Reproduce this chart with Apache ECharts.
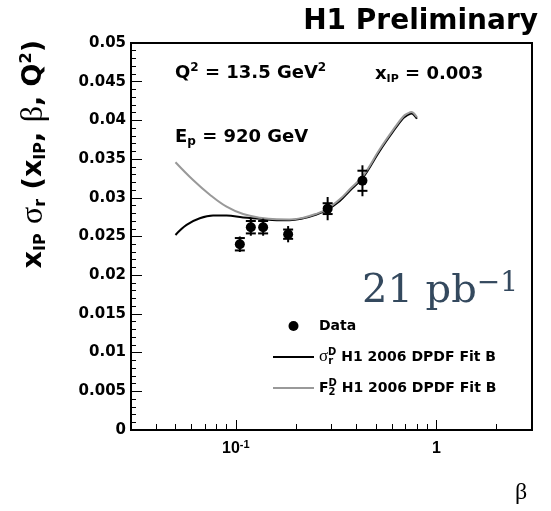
<!DOCTYPE html>
<html>
<head>
<meta charset="utf-8">
<script src="https://cdn.jsdelivr.net/npm/echarts@6/dist/echarts.min.js"></script>
<style>
html, body { margin: 0; padding: 0; background: #fff; }
#chart { width: 551px; height: 511px; }
</style>
</head>
<body>
<div id="chart"></div>
<script>
// measured points (beta, x_IP * sigma_r) with stat / total errors
var betaPts = [0.1047, 0.1188, 0.1368, 0.1823, 0.287, 0.428];
var sigmaPts = [0.0240, 0.0262, 0.0262, 0.0253, 0.0286, 0.0322];
var statErr = [0.0008, 0.0008, 0.0008, 0.0006, 0.0007, 0.0013];
var totErr = [0.0010, 0.0011, 0.0011, 0.00105, 0.0015, 0.0020];

// H1 2006 DPDF Fit B, sigma_r^D
var betaSig = [0.05, 0.0568, 0.0661, 0.077, 0.0899, 0.1087, 0.1317, 0.16, 0.185, 0.217, 0.25, 0.283, 0.33, 0.37, 0.43, 0.52, 0.61, 0.684, 0.72, 0.752, 0.78, 0.8];
var valSig = [0.0252, 0.0265, 0.02735, 0.0277, 0.0277, 0.02745, 0.0273, 0.0271, 0.0271, 0.02735, 0.0278, 0.0284, 0.0296, 0.0309, 0.0326, 0.0360, 0.0386, 0.0403, 0.0407, 0.0409, 0.0406, 0.0402];

// H1 2006 DPDF Fit B, F2^D
var betaF2 = [0.05, 0.0612, 0.0742, 0.0899, 0.1087, 0.1317, 0.16, 0.185, 0.217, 0.25, 0.283, 0.33, 0.37, 0.43, 0.52, 0.61, 0.684, 0.72, 0.752, 0.78, 0.8];
var valF2 = [0.0346, 0.0323, 0.0304, 0.02885, 0.0279, 0.02743, 0.02722, 0.0272, 0.02743, 0.0279, 0.0285, 0.0298, 0.0311, 0.0328, 0.0362, 0.0388, 0.0405, 0.0409, 0.0411, 0.0408, 0.0404];

var xMajor = [0.1, 1];
var xMinor = [0.04, 0.05, 0.06, 0.07, 0.08, 0.09, 0.2, 0.3, 0.4, 0.5, 0.6, 0.7, 0.8, 0.9, 2, 3];

var SANS = '"DejaVu Sans"';
var SERIF = '"Liberation Serif"';

function zip(a, b) {
  return a.map(function (v, i) { return [v, b[i]]; });
}

var chart = echarts.init(document.getElementById('chart'));

var option = {
  animation: false,
  backgroundColor: '#fff',
  grid: {
    left: 131, right: 19, top: 43, bottom: 81,
    show: true, borderColor: '#000', borderWidth: 2, backgroundColor: 'transparent'
  },
  xAxis: [{
    type: 'log', logBase: 10, min: 0.03, max: 3,
    position: 'bottom',
    axisLine: { show: true, lineStyle: { color: '#000', width: 2 } },
    axisTick: { show: true, inside: true, length: 10, customValues: xMajor, lineStyle: { color: '#000', width: 1 } },
    axisLabel: {
      customValues: xMajor, margin: 10, color: '#000',
      formatter: function (v) { return v < 0.5 ? '{b|10}{e|-1}' : '{b|1}'; },
      rich: {
        b: { fontFamily: '"Liberation Sans"', fontWeight: 'bold', fontSize: 16, lineHeight: 18, color: '#000' },
        e: { fontFamily: '"Liberation Sans"', fontWeight: 'bold', fontSize: 11, lineHeight: 11, padding: [0, 0, 9, 0], color: '#000' }
      }
    },
    splitLine: { show: false }
  }, {
    type: 'log', logBase: 10, min: 0.03, max: 3,
    position: 'bottom',
    axisLine: { show: false },
    axisTick: { show: true, inside: true, length: 6, customValues: xMinor, lineStyle: { color: '#000', width: 1 } },
    axisLabel: { show: false },
    splitLine: { show: false }
  }],
  yAxis: {
    type: 'value', min: 0, max: 0.05, interval: 0.005,
    axisLine: { show: true, lineStyle: { color: '#000', width: 2 } },
    axisTick: { show: true, inside: true, length: 11, lineStyle: { color: '#000', width: 1 } },
    minorTick: { show: true, splitNumber: 5, length: 5, lineStyle: { color: '#000', width: 1 } },
    axisLabel: { fontFamily: SANS, fontWeight: 'bold', fontSize: 15, color: '#000', margin: 5 },
    splitLine: { show: false }
  },
  legend: {
    orient: 'vertical', left: 267, top: 311,
    itemWidth: 41, itemHeight: 10, itemGap: 11,
    selectedMode: false,
    data: [
      { name: 'Data', icon: 'circle', itemStyle: { color: '#000', opacity: 1 } },
      { name: 'sigma', itemStyle: { opacity: 0 } },
      { name: 'F2', itemStyle: { opacity: 0 } }
    ],
    formatter: function (name) {
      if (name === 'Data') return '{t|Data}';
      if (name === 'sigma') return '{g|σ}{sub|r}{supb|D}{t| H1 2006 DPDF Fit B}';
      return '{t|F}{sub|2}{supc|D}{t| H1 2006 DPDF Fit B}';
    },
    textStyle: {
      color: '#000', lineHeight: 20,
      rich: {
        t: { fontFamily: SANS, fontWeight: 'bold', fontSize: 14, lineHeight: 20, color: '#000' },
        g: { fontFamily: SERIF, fontSize: 17, lineHeight: 20, color: '#000' },
        sub: { fontFamily: SANS, fontWeight: 'bold', fontSize: 10, lineHeight: 10, padding: [9, 0, 0, 0], color: '#000' },
        supb: { fontFamily: SANS, fontWeight: 'bold', fontSize: 10, lineHeight: 10, padding: [0, 0, 9, -5], color: '#000' },
        supc: { fontFamily: SANS, fontWeight: 'bold', fontSize: 10, lineHeight: 10, padding: [0, 0, 9, -7], color: '#000' }
      }
    }
  },
  graphic: [
    {
      type: 'text', x: 538, y: 22,
      style: { text: 'H1 Preliminary', font: 'bold 28px ' + SANS, fill: '#000', textAlign: 'right', textVerticalAlign: 'middle' }
    },
    {
      type: 'text', x: 175, y: 73,
      style: {
        text: '{t|Q}{sup|2}{t| = 13.5 GeV}{sup|2}', textAlign: 'left', textVerticalAlign: 'middle',
        rich: {
          t: { fontFamily: SANS, fontWeight: 'bold', fontSize: 18, lineHeight: 22, fill: '#000' },
          sup: { fontFamily: SANS, fontWeight: 'bold', fontSize: 12, lineHeight: 12, padding: [0, 0, 10, 0], fill: '#000' }
        }
      }
    },
    {
      type: 'text', x: 375, y: 74,
      style: {
        text: '{t|x}{sub|IP}{t| = 0.003}', textAlign: 'left', textVerticalAlign: 'middle',
        rich: {
          t: { fontFamily: SANS, fontWeight: 'bold', fontSize: 18, lineHeight: 22, fill: '#000' },
          sub: { fontFamily: SANS, fontWeight: 'bold', fontSize: 11, lineHeight: 11, padding: [10, 0, 0, 0], fill: '#000' }
        }
      }
    },
    {
      type: 'text', x: 175, y: 137,
      style: {
        text: '{t|E}{sub|p}{t| = 920 GeV}', textAlign: 'left', textVerticalAlign: 'middle',
        rich: {
          t: { fontFamily: SANS, fontWeight: 'bold', fontSize: 18, lineHeight: 22, fill: '#000' },
          sub: { fontFamily: SANS, fontWeight: 'bold', fontSize: 12, lineHeight: 12, padding: [10, 0, 0, 0], fill: '#000' }
        }
      }
    },
    {
      // y axis title, rotated, end aligned to the top of the frame
      type: 'text', x: 34, y: 40, rotation: Math.PI / 2,
      style: {
        text: '{t|x}{sub|IP}{t| }{g|σ}{sub|r}{t| (x}{sub|IP}{t|, }{g|β}{t|, Q}{sup|2}{t|)}',
        textAlign: 'right', textVerticalAlign: 'middle',
        rich: {
          t: { fontFamily: SANS, fontWeight: 'bold', fontSize: 27, lineHeight: 32, fill: '#000' },
          g: { fontFamily: SERIF, fontSize: 32, lineHeight: 32, fill: '#000' },
          sub: { fontFamily: SANS, fontWeight: 'bold', fontSize: 16, lineHeight: 16, padding: [14, 0, 0, 0], fill: '#000' },
          sup: { fontFamily: SANS, fontWeight: 'bold', fontSize: 16, lineHeight: 16, padding: [0, 0, 14, 0], fill: '#000' }
        }
      }
    },
    {
      type: 'text', x: 521, y: 493,
      style: { text: 'β', font: '24px ' + SERIF, fill: '#000', textAlign: 'center', textVerticalAlign: 'middle' }
    },
    {
      type: 'text', x: 362, y: 292,
      style: {
        text: '{n|21 pb}{s|−1}', textAlign: 'left', textVerticalAlign: 'middle',
        rich: {
          n: { fontFamily: '"DejaVu Serif"', fontSize: 40, lineHeight: 44, fill: '#34495e' },
          s: { fontFamily: '"DejaVu Serif"', fontSize: 28, lineHeight: 28, padding: [0, 0, 16, 0], fill: '#34495e' }
        }
      }
    }
  ],
  series: [
    {
      name: 'sigma', type: 'line', xAxisIndex: 0,
      data: zip(betaSig, valSig),
      smooth: 0.4, symbol: 'none', z: 2,
      itemStyle: { color: '#000' },
      lineStyle: { color: '#000', width: 2 }
    },
    {
      name: 'F2', type: 'line', xAxisIndex: 0,
      data: zip(betaF2, valF2),
      smooth: 0.4, symbol: 'none', z: 3,
      itemStyle: { color: '#999' },
      lineStyle: { color: '#999', width: 2 }
    },
    {
      name: 'errors', type: 'custom', xAxisIndex: 0, z: 4,
      encode: { x: 0, y: 1 },
      data: betaPts.map(function (b, i) { return [b, sigmaPts[i], statErr[i], totErr[i]]; }),
      renderItem: function (params, api) {
        var b = api.value(0), v = api.value(1), s = api.value(2), t = api.value(3);
        var top = api.coord([b, v + t]);
        var bot = api.coord([b, v - t]);
        var sTop = api.coord([b, v + s]);
        var sBot = api.coord([b, v - s]);
        var cx = top[0], w = 5;
        var st = { stroke: '#000', lineWidth: 2 };
        return {
          type: 'group',
          children: [
            { type: 'line', shape: { x1: cx, y1: top[1], x2: cx, y2: bot[1] }, style: st },
            { type: 'line', shape: { x1: cx - w, y1: sTop[1], x2: cx + w, y2: sTop[1] }, style: st },
            { type: 'line', shape: { x1: cx - w, y1: sBot[1], x2: cx + w, y2: sBot[1] }, style: st }
          ]
        };
      }
    },
    {
      name: 'Data', type: 'scatter', xAxisIndex: 0, z: 5,
      data: zip(betaPts, sigmaPts),
      symbol: 'circle', symbolSize: 10,
      itemStyle: { color: '#000', opacity: 1 }
    }
  ]
};

chart.setOption(option);
</script>
</body>
</html>
